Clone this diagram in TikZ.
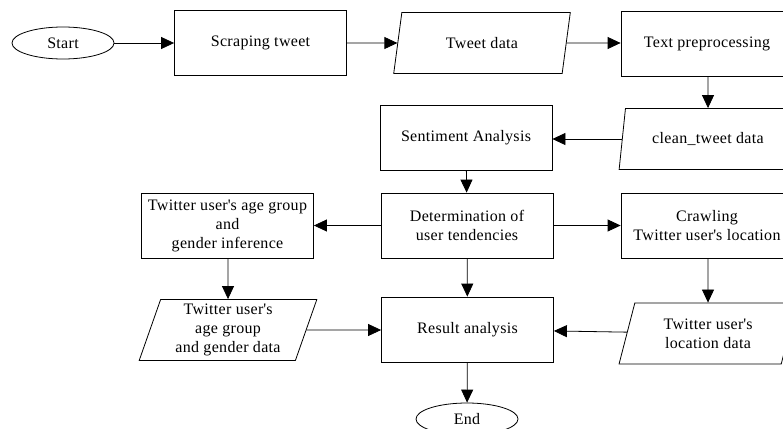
\documentclass[tikz,border=0pt]{standalone}
\usepackage{fontspec}
\setmainfont{Liberation Serif}[LetterSpace=2]
\usetikzlibrary{shapes.geometric,arrows.meta}
\tikzset{
  base/.style={draw, line width=0.8pt, align=center, font=\fontsize{16}{18.7}\selectfont, inner sep=0pt},
  procbox/.style={base, rectangle, minimum width=172pt, minimum height=65pt},
  databox/.style={base, trapezium, trapezium stretches=true, trapezium left angle=72, trapezium right angle=108, minimum width=178pt, minimum height=61pt},
  termbox/.style={base, ellipse, minimum width=102pt, minimum height=32pt},
  flow/.style={line width=0.8pt, -{Triangle[length=13pt,width=12pt]}}
}
\begin{document}
\begin{tikzpicture}[x=1pt,y=-1pt]
\useasboundingbox (0,0) rectangle (783,428);
\clip (0,0) rectangle (783,428);
\node[termbox] (start) at (63,43) {Start};
\node[procbox] (scrape) at (260.5,43) {Scraping tweet};
\node[databox] (tweet) at (482,43) {Tweet data};
\node[procbox] (prep) at (707,44) {Text preprocessing};
\node[databox] (clean) at (708,139) {clean\_tweet data};
\node[procbox] (senti) at (466,137.5) {Sentiment Analysis};
\node[procbox] (determ) at (467,225.5) {Determination of\\user tendencies};
\node[procbox] (crawl) at (707,225.5) {Crawling\\Twitter user\textquotesingle s location};
\node[procbox] (ageinf) at (227.5,226) {Twitter user\textquotesingle s age group\\and\\gender inference};
\node[databox] (agedata) at (228,330) {Twitter user\textquotesingle s\\age group\\and gender data};
\node[procbox] (result) at (467.5,329.5) {Result analysis};
\node[databox] (loc) at (708,333.5) {Twitter user\textquotesingle s\\location data};
\node[termbox] (end) at (467,419) {End};
\draw[flow] (start) -- (scrape);
\draw[flow] (scrape) -- (tweet);
\draw[flow] (tweet) -- (prep.west |- tweet);
\draw[flow] (prep.south -| clean) -- (clean.north);
\draw[flow] (clean) -- (senti.east |- clean);
\draw[flow] (senti) -- (determ);
\draw[flow] (determ) -- (crawl);
\draw[flow] (determ) -- (ageinf.east |- determ);
\draw[flow] (determ) -- (result);
\draw[flow] (ageinf.south -| agedata) -- (agedata.north);
\draw[flow] (agedata) -- (result.west |- agedata);
\draw[flow] (crawl.south -| loc) -- (loc.north);
\draw[flow] (loc) -- (result);
\draw[flow] (result) -- (end);
\end{tikzpicture}
\end{document}
